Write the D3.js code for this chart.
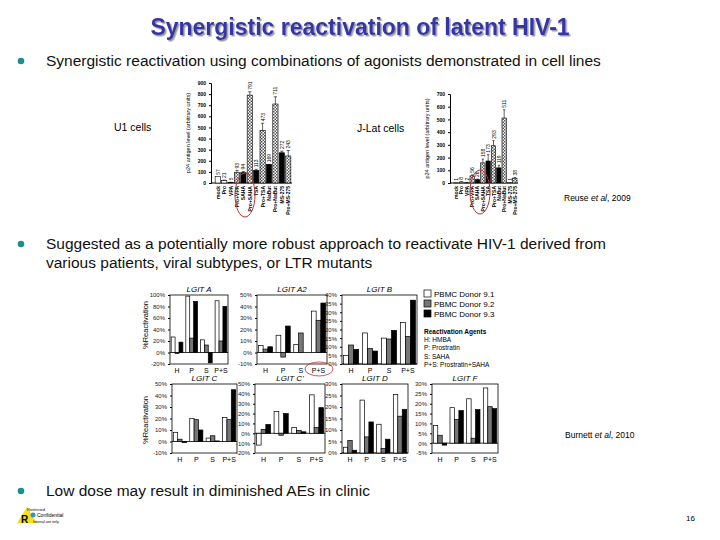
<!DOCTYPE html>
<html><head><meta charset="utf-8">
<script src="https://cdn.jsdelivr.net/npm/d3@7"></script>
<style>body{margin:0;background:#fff}svg{font-family:Arial,"Liberation Sans",sans-serif}</style>
</head><body><svg id="c" width="720" height="540"></svg>
<script>
// ---------- data ----------
const cellCats = ["mock","Pro","VPA","Pro+VPA","SAHA","Pro+SAHA","TSA","Pro+TSA","NaBut","Pro+NaBut","MS-275","Pro+MS-275"];
const u1Values = [57,21,5,93,94,791,113,473,169,711,272,243];
const u1Err = [0,5,2,20,10,30,10,65,0,65,15,50];
const jlatValues = [1,8,2,56,26,158,173,293,119,511,1,38];
const jlatErr = [0,2,1,8,5,30,50,40,20,65,0,5];
const cellFill = ["w","w","w","c","k","c","k","c","k","c","k","c"];
const agents = ["H","P","S","P+S"];
const donors = ["PBMC Donor 9.1","PBMC Donor 9.2","PBMC Donor 9.3"];
const donorColors = ["#fff","#777","#000"];
const lgitA  = [[27,-2,18],[98,25,89],[22,13,-18],[90,20,80]];
const lgitA2 = [[6,3,5],[15,-4,23],[7,17,0],[36,28,43]];
const lgitB  = [[5,11,8.5],[18,9,7.5],[15,14.5,19.5],[24,16,37]];
const lgitC  = [[8,2,-1],[20,19,10],[3,5,0.5],[21,19,45]];
const lgitC2 = [[-12,4,9],[22,-2,20],[6,3,1.5],[39,6,26]];
const lgitD  = [[2.5,5.5,1.2],[23,7,13.5],[12.5,2,6],[25.5,16,19]];
const lgitF  = [[9,4,-1],[18,12,16.5],[22.5,2.5,17],[28,18.5,17.5]];

const svg = d3.select("#c");
const defs = svg.append("defs");
const pat = defs.append("pattern").attr("id","chk").attr("width",3).attr("height",3).attr("patternUnits","userSpaceOnUse");
pat.append("rect").attr("width",3).attr("height",3).attr("fill","#fff");
pat.append("rect").attr("width",1.5).attr("height",1.5).attr("fill","#555");
pat.append("rect").attr("x",1.5).attr("y",1.5).attr("width",1.5).attr("height",1.5).attr("fill","#555");
const flt = defs.append("filter").attr("id","sh");
flt.append("feDropShadow").attr("dx",1.5).attr("dy",1.5).attr("stdDeviation",0.6).attr("flood-color","#999");

// ---------- text ----------
svg.append("text").attr("x",360).attr("y",35).attr("text-anchor","middle").attr("font-size",23).attr("font-weight","bold")
  .attr("fill","#3535a8").attr("filter","url(#sh)").text("Synergistic reactivation of latent HIV-1");
function bullet(y, lines){
  svg.append("circle").attr("cx",21).attr("cy",y-5).attr("r",3.3).attr("fill","#1a8f8f");
  lines.forEach((l,i)=>svg.append("text").attr("x",46).attr("y",y+i*19).attr("font-size",15.5).attr("fill","#111").text(l));
}
bullet(66,["Synergistic reactivation using combinations of agonists demonstrated in cell lines"]);
bullet(249,["Suggested as a potentially more robust approach to reactivate HIV-1 derived from","various patients, viral subtypes, or LTR mutants"]);
bullet(496,["Low dose may result in diminished AEs in clinic"]);
svg.append("text").attr("x",114).attr("y",131).attr("font-size",10.5).text("U1 cells");
svg.append("text").attr("x",357).attr("y",132).attr("font-size",10.5).text("J-Lat cells");
const cite=(x,y,a,b)=>{const t=svg.append("text").attr("x",x).attr("y",y).attr("font-size",8.5);t.append("tspan").text(a+" ");t.append("tspan").attr("font-style","italic").text("et al");t.append("tspan").text(", "+b);};
cite(564,201,"Reuse","2009");
cite(565,438,"Burnett","2010");
svg.append("text").attr("x",686).attr("y",521).attr("font-size",8).text("16");
// logo
svg.append("path").attr("d","M17,523 L27,507 L37,523 Z").attr("fill","#f5e020");
svg.append("text").attr("x",21).attr("y",523).attr("font-size",10).attr("font-weight","bold").text("R");
svg.append("circle").attr("cx",33).attr("cy",515).attr("r",2.5).attr("fill","#3a8fd0");
svg.append("text").attr("x",27).attr("y",511).attr("font-size",4).text("Restricted");
svg.append("text").attr("x",37).attr("y",517).attr("font-size",5).text("Confidential");
svg.append("text").attr("x",33).attr("y",523).attr("font-size",3.5).text("Internal use only");

// ---------- cell-line bar charts ----------
function cellChart(x0,x1,yTop,yBot,maxV,values,errs,tickMax){
  const g=svg.append("g");
  const y=d3.scaleLinear().domain([0,maxV]).range([yBot,yTop]);
  const x=d3.scaleBand().domain(cellCats).range([x0,x1]).padding(0.18);
  const ax=g.append("g").attr("transform",`translate(${x0-3},0)`).call(d3.axisLeft(y).tickValues(d3.range(0,tickMax+1,100)).tickSize(2));
  ax.selectAll("text").attr("font-size",5).attr("font-weight","bold");
  ax.select(".domain").attr("stroke","#000");
  g.append("line").attr("x1",x0-3).attr("x2",x1).attr("y1",yBot).attr("y2",yBot).attr("stroke","#000");
  values.forEach((v,i)=>{
    const c=cellCats[i], f=cellFill[i];
    g.append("rect").attr("x",x(c)).attr("width",x.bandwidth()).attr("y",y(v)).attr("height",yBot-y(v))
      .attr("fill",f=="w"?"#fff":f=="k"?"#000":"url(#chk)").attr("stroke","#000").attr("stroke-width",0.6);
    if(errs[i]>0){g.append("line").attr("x1",x(c)+x.bandwidth()/2).attr("x2",x(c)+x.bandwidth()/2).attr("y1",y(v)).attr("y2",y(v+errs[i])).attr("stroke","#000").attr("stroke-width",0.6);
      g.append("line").attr("x1",x(c)+1).attr("x2",x(c)+x.bandwidth()-1).attr("y1",y(v+errs[i])).attr("y2",y(v+errs[i])).attr("stroke","#000").attr("stroke-width",0.6);}
    const ly=y(v+errs[i])-2;
    g.append("text").attr("transform",`translate(${x(c)+x.bandwidth()/2+2},${ly}) rotate(-90)`).attr("font-size",5).text(v);
    g.append("text").attr("transform",`translate(${x(c)+x.bandwidth()/2+2},${yBot+3}) rotate(-90)`).attr("text-anchor","end").attr("font-size",5).attr("font-weight","bold").text(c);
  });
  g.append("text").attr("transform",`translate(${x0-24},${(yTop+yBot)/2}) rotate(-90)`).attr("text-anchor","middle").attr("font-size",5.5).text("p24 antigen level (arbitrary units)");
}
cellChart(214,292,83,183,900,u1Values,u1Err,900);
cellChart(453,518,94,183,700,jlatValues,jlatErr,700);
svg.append("ellipse").attr("cx",245).attr("cy",195).attr("rx",10).attr("ry",22).attr("fill","none").attr("stroke","#c03030").attr("stroke-width",1);
svg.append("ellipse").attr("cx",480).attr("cy",192).attr("rx",10).attr("ry",22).attr("fill","none").attr("stroke","#c03030").attr("stroke-width",1);

// ---------- LGIT panels ----------
function panel(name,data,x0,x1,yT,yB,lo,hi,step){
  const g=svg.append("g");
  const y=d3.scaleLinear().domain([lo,hi]).range([yB,yT]);
  const x=d3.scaleBand().domain(agents).range([x0,x1]).paddingInner(0.2).paddingOuter(0.08);
  const xs=d3.scaleBand().domain([0,1,2]).range([0,x.bandwidth()]);
  g.append("rect").attr("x",x0).attr("y",yT).attr("width",x1-x0).attr("height",yB-yT).attr("fill","none").attr("stroke","#000").attr("stroke-width",0.8);
  const ax=g.append("g").attr("transform",`translate(${x0},0)`).call(d3.axisLeft(y).tickValues(d3.range(lo,hi+0.01,step)).tickSize(2).tickFormat(d=>d+"%"));
  ax.selectAll("text").attr("font-size",6).attr("fill","#222");ax.select(".domain").remove();
  g.append("line").attr("x1",x0).attr("x2",x1).attr("y1",y(0)).attr("y2",y(0)).attr("stroke","#000").attr("stroke-width",0.8);
  data.forEach((vals,i)=>vals.forEach((v,j)=>{
    g.append("rect").attr("x",x(agents[i])+xs(j)).attr("width",xs.bandwidth()).attr("y",y(Math.max(v,0))).attr("height",Math.abs(y(v)-y(0)))
      .attr("fill",donorColors[j]).attr("stroke","#000").attr("stroke-width",0.7);
  }));
  agents.forEach(a=>g.append("text").attr("x",x(a)+x.bandwidth()/2).attr("y",yB+9).attr("text-anchor","middle").attr("font-size",7).text(a));
  g.append("text").attr("x",(x0+x1)/2).attr("y",yT-3).attr("text-anchor","middle").attr("font-size",8).attr("font-style","italic").text(name);
}
panel("LGIT A",lgitA,170,228,295,364,-20,100,20);
panel("LGIT A2",lgitA2,257,327,295,364,-10,50,10);
panel("LGIT B",lgitB,342,417,295,364,0,40,5);
panel("LGIT C",lgitC,172,237,384,453,-10,50,10);
panel("LGIT C'",lgitC2,255,325,384,453,-20,50,10);
panel("LGIT D",lgitD,342,408,384,453,0,30,5);
panel("LGIT F",lgitF,432,498,384,453,-5,30,5);
svg.append("ellipse").attr("cx",319).attr("cy",369).attr("rx",14).attr("ry",7).attr("fill","none").attr("stroke","#c03030").attr("stroke-width",0.8);
[325,420].forEach(cy=>svg.append("text").attr("transform",`translate(148,${cy}) rotate(-90)`).attr("text-anchor","middle").attr("font-size",7.5).text("%Reactivation"));
// legend
donors.forEach((d,i)=>{
  svg.append("rect").attr("x",424).attr("y",290+i*10).attr("width",7).attr("height",7).attr("fill",donorColors[i]).attr("stroke","#000").attr("stroke-width",0.7);
  svg.append("text").attr("x",434).attr("y",297+i*10).attr("font-size",8).text(d);
});
svg.append("text").attr("x",424).attr("y",334).attr("font-size",6.5).attr("font-weight","bold").text("Reactivation Agents");
["H: HMBA","P: Prostratin","S: SAHA","P+S: Prostratin+SAHA"].forEach((t,i)=>svg.append("text").attr("x",424).attr("y",342+i*8.3).attr("font-size",6.5).text(t));
</script></body></html>
